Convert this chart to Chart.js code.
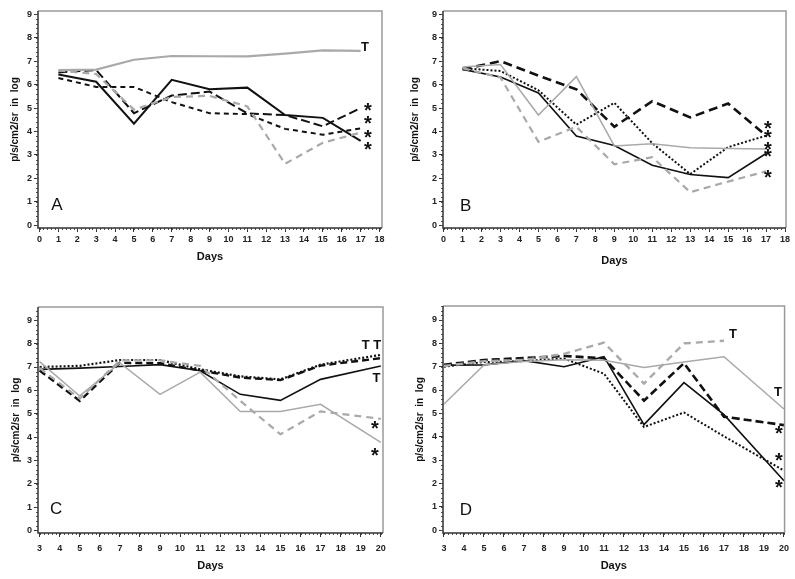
<!DOCTYPE html>
<html>
<head>
<meta charset="utf-8">
<script src="https://cdn.jsdelivr.net/npm/chart.js@4/dist/chart.umd.min.js"></script>
<style>
  body { margin: 0; background: #fff; }
  #wrap { position: relative; width: 795px; height: 579px; }
  canvas { position: absolute; }
</style>
</head>
<body>
<div id="wrap">
  <canvas id="chartA" width="397" height="290" style="left:0;top:0"></canvas>
  <canvas id="chartB" width="398" height="290" style="left:397px;top:0"></canvas>
  <canvas id="chartC" width="397" height="289" style="left:0;top:290px"></canvas>
  <canvas id="chartD" width="398" height="289" style="left:397px;top:290px"></canvas>
</div>
<script>
// days measured
const daysAB = [1, 3, 5, 7, 9, 11, 13, 15, 17];
const daysCD = [3, 5, 7, 9, 11, 13, 15, 17, 20];

// panel A
const aGraySolid = [6.62, 6.64, 7.06, 7.22, 7.21, 7.2, 7.32, 7.46, 7.44];
const aBlackSolid = [6.43, 6.12, 4.33, 6.2, 5.8, 5.87, 4.7, 4.58, 3.6];
const aLongDash = [6.52, 6.62, 4.78, 5.53, 5.7, 4.77, 4.7, 4.22, 5.0];
const aShortDash = [6.28, 5.9, 5.9, 5.25, 4.78, 4.74, 4.11, 3.86, 4.13];
const aGrayDash = [6.6, 6.45, 4.93, 5.47, 5.52, 5.07, 2.62, 3.52, 3.95];

// panel B
const bLongDash = [6.65, 7.0, 6.38, 5.8, 4.2, 5.29, 4.6, 5.19, 3.82];
const bDotted = [6.7, 6.58, 5.76, 4.29, 5.22, 3.5, 2.18, 3.33, 3.82];
const bBlackSolid = [6.65, 6.32, 5.64, 3.8, 3.4, 2.56, 2.16, 2.03, 3.06];
const bGraySolid = [6.75, 6.86, 4.7, 6.34, 3.38, 3.48, 3.3, 3.27, 3.25];
const bGrayDash = [6.7, 6.3, 3.56, 4.2, 2.6, 2.9, 1.41, 1.86, 2.3];

// panel C
const cDotted = [7.0, 7.05, 7.3, 7.3, 6.9, 6.6, 6.47, 7.1, 7.52];
const cBlackDash = [6.85, 5.55, 7.18, 7.16, 6.85, 6.55, 6.44, 7.06, 7.38];
const cBlackSolid = [6.9, 6.95, 7.02, 7.1, 6.84, 5.83, 5.57, 6.47, 7.04];
const cGraySolid = [7.23, 5.76, 7.17, 5.83, 6.78, 5.09, 5.09, 5.4, 3.77];
const cGrayDash = [6.95, 5.65, 7.28, 7.28, 7.05, 5.55, 4.12, 5.1, 4.78];

// panel D
const dGrayDash = [7.03, 7.24, 7.29, 7.55, 8.03, 6.28, 8.0, 8.11, null];
const dGraySolid = [5.4, 7.08, 7.22, 7.3, 7.28, 6.97, 7.2, 7.43, 5.19];
const dBlackDash = [7.08, 7.29, 7.37, 7.46, 7.36, 5.55, 7.15, 4.86, 4.5];
const dBlackSolid = [7.06, 7.08, 7.26, 7.0, 7.43, 4.52, 6.32, 4.95, 2.12];
const dDotted = [7.0, 7.2, 7.24, 7.35, 6.7, 4.42, 5.04, 4.02, 2.55];

const BLACK = "#111";
const GRAY = "#a9a9a9";
const FONT = "'Liberation Sans', Arial, sans-serif";

function serie(days, vals, color, width, dash) {
  return {
    data: days.map((d, i) => ({ x: d, y: vals[i] })),
    borderColor: color,
    borderWidth: width,
    borderDash: dash || [],
    pointRadius: 0,
    tension: 0,
    fill: false
  };
}

// one tick per whole number inside the range
function soloEnteros(scale) {
  const t = [];
  for (let v = Math.ceil(scale.min); v <= Math.floor(scale.max); v++) t.push({ value: v });
  scale.ticks = t;
}

const marco = {
  id: "marco",
  afterDraw(chart, args, opts) {
    const { ctx, chartArea: a, scales: { x, y } } = chart;
    ctx.save();
    // minor ticks
    ctx.strokeStyle = "#555";
    ctx.lineWidth = 1;
    ctx.beginPath();
    for (let k = Math.ceil(y.min * 5); k <= Math.floor(y.max * 5); k++) {
      const py = Math.round(y.getPixelForValue(k / 5)) + 0.5;
      ctx.moveTo(a.left - 2, py);
      ctx.lineTo(a.left, py);
    }
    for (let k = Math.ceil(x.min * 5); k <= Math.floor(x.max * 5); k++) {
      const px = Math.round(x.getPixelForValue(k / 5)) + 0.5;
      ctx.moveTo(px, a.bottom);
      ctx.lineTo(px, a.bottom + 2);
    }
    ctx.stroke();
    // box
    ctx.strokeStyle = "#9a9a9a";
    ctx.lineWidth = 1.5;
    ctx.beginPath();
    ctx.moveTo(a.left, a.top);
    ctx.lineTo(a.right, a.top);
    ctx.lineTo(a.right, a.bottom);
    ctx.stroke();
    ctx.strokeStyle = "#333";
    ctx.beginPath();
    ctx.moveTo(a.left, a.top);
    ctx.lineTo(a.left, a.bottom);
    ctx.lineTo(a.right, a.bottom);
    ctx.stroke();
    // letter and marks
    ctx.fillStyle = "#111";
    ctx.textAlign = "center";
    const notas = opts.notas || [];
    notas.forEach(n => {
      ctx.font = n.f;
      const m = ctx.measureText(n.t);
      const cx = x.getPixelForValue(n.x);
      const cy = y.getPixelForValue(n.y);
      ctx.fillText(n.t, cx, cy + (m.actualBoundingBoxAscent - m.actualBoundingBoxDescent) / 2);
    });
    ctx.restore();
  }
};

const fLetra = "17px " + FONT;
const fT = "bold 13px " + FONT;
const fAst = "bold 20px " + FONT;

function panel(id, cfg) {
  new Chart(document.getElementById(id), {
    type: "line",
    data: { datasets: cfg.series },
    options: {
      responsive: false,
      animation: false,
      events: [],
      layout: { padding: cfg.pad },
      plugins: {
        legend: { display: false },
        tooltip: { enabled: false },
        marco: { notas: cfg.notas }
      },
      scales: {
        x: {
          type: "linear",
          min: cfg.xmin,
          max: cfg.xmax,
          afterFit: s => { s.height = cfg.xh; },
          afterBuildTicks: soloEnteros,
          ticks: { stepSize: 1, autoSkip: false, maxRotation: 0, padding: cfg.xtp, color: "#222", font: { family: FONT, size: 9, weight: "bold" } },
          grid: { drawOnChartArea: false, tickLength: 4, color: "#333" },
          border: { display: false },
          title: { display: true, text: "Days", color: "#111", padding: 0, font: { family: FONT, size: 11, weight: "bold" } }
        },
        y: {
          min: cfg.ymin,
          max: cfg.ymax,
          afterFit: s => { s.width = cfg.yw; },
          afterBuildTicks: soloEnteros,
          ticks: { stepSize: 1, padding: 2, color: "#222", font: { family: FONT, size: 9, weight: "bold" } },
          grid: { drawOnChartArea: false, tickLength: 4, color: "#333" },
          border: { display: false },
          title: { display: true, text: "p/s/cm2/sr  in  log", color: "#111", padding: { top: cfg.ytp, bottom: 0 }, font: { family: FONT, size: 10, weight: "bold" } }
        }
      }
    },
    plugins: [marco]
  });
}

panel("chartA", {
  pad: { left: 0, top: 11, right: 15, bottom: 26 }, xh: 36, yw: 38, ytp: 9, xtp: 2,
  xmin: -0.08, xmax: 18.13, ymin: -0.12, ymax: 9.14,
  series: [
    serie(daysAB, aGrayDash, GRAY, 2.2, [7, 5]),
    serie(daysAB, aGraySolid, GRAY, 2.2),
    serie(daysAB, aShortDash, BLACK, 2, [5, 4]),
    serie(daysAB, aLongDash, BLACK, 2, [9, 4]),
    serie(daysAB, aBlackSolid, BLACK, 2)
  ],
  notas: [
    { x: 0.92, y: 0.9, t: "A", f: fLetra },
    { x: 17.23, y: 7.61, t: "T", f: fT },
    { x: 17.38, y: 5.05, t: "*", f: fAst },
    { x: 17.38, y: 4.48, t: "*", f: fAst },
    { x: 17.38, y: 3.91, t: "*", f: fAst },
    { x: 17.38, y: 3.37, t: "*", f: fAst }
  ]
});

panel("chartB", {
  pad: { left: 0, top: 11, right: 9, bottom: 22 }, xh: 40, yw: 46, ytp: 12, xtp: 2,
  xmin: -0.03, xmax: 18.05, ymin: -0.12, ymax: 9.14,
  series: [
    serie(daysAB, bGrayDash, GRAY, 2.2, [7, 5]),
    serie(daysAB, bGraySolid, GRAY, 1.5),
    serie(daysAB, bBlackSolid, BLACK, 1.6),
    serie(daysAB, bDotted, BLACK, 2, [2, 2]),
    serie(daysAB, bLongDash, BLACK, 2.6, [9, 5])
  ],
  notas: [
    { x: 1.16, y: 0.87, t: "B", f: fLetra },
    { x: 17.09, y: 4.27, t: "*", f: fAst },
    { x: 17.09, y: 3.88, t: "*", f: fAst },
    { x: 17.09, y: 3.39, t: "*", f: fAst },
    { x: 17.09, y: 3.09, t: "*", f: fAst },
    { x: 17.09, y: 2.2, t: "*", f: fAst }
  ]
});

panel("chartC", {
  pad: { left: 0, top: 17, right: 14, bottom: 6 }, xh: 40, yw: 38, ytp: 10, xtp: 6,
  xmin: 2.92, xmax: 20.11, ymin: -0.11, ymax: 9.57,
  series: [
    serie(daysCD, cGraySolid, GRAY, 1.5),
    serie(daysCD, cGrayDash, GRAY, 2.2, [7, 5]),
    serie(daysCD, cBlackSolid, BLACK, 1.6),
    serie(daysCD, cDotted, BLACK, 2.2, [2, 2]),
    serie(daysCD, cBlackDash, BLACK, 2.4, [7, 4])
  ],
  notas: [
    { x: 3.82, y: 0.94, t: "C", f: fLetra },
    { x: 19.54, y: 7.98, t: "T T", f: fT },
    { x: 19.79, y: 6.54, t: "T", f: fT },
    { x: 19.7, y: 4.52, t: "*", f: fAst },
    { x: 19.7, y: 3.35, t: "*", f: fAst }
  ]
});

panel("chartD", {
  pad: { left: 0, top: 16, right: 10, bottom: 6 }, xh: 40, yw: 46, ytp: 17, xtp: 6,
  xmin: 2.95, xmax: 20.03, ymin: -0.12, ymax: 9.6,
  series: [
    serie(daysCD, dGraySolid, GRAY, 1.5),
    serie(daysCD, dGrayDash, GRAY, 2.4, [7, 5]),
    serie(daysCD, dDotted, BLACK, 2, [2, 2]),
    serie(daysCD, dBlackSolid, BLACK, 1.6),
    serie(daysCD, dBlackDash, BLACK, 2.6, [8, 4])
  ],
  notas: [
    { x: 4.1, y: 0.91, t: "D", f: fLetra },
    { x: 17.45, y: 8.43, t: "T", f: fT },
    { x: 19.7, y: 5.93, t: "T", f: fT },
    { x: 19.75, y: 4.29, t: "*", f: fAst },
    { x: 19.75, y: 3.12, t: "*", f: fAst },
    { x: 19.75, y: 1.96, t: "*", f: fAst }
  ]
});
</script>
</body>
</html>
